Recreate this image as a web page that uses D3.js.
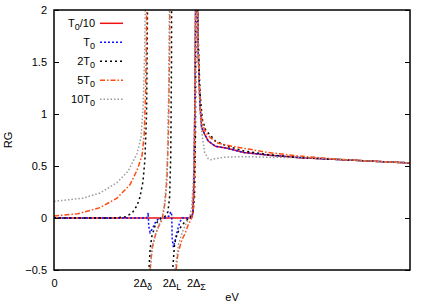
<!DOCTYPE html>
<html>
<head>
<meta charset="utf-8">
<script src="https://cdn.jsdelivr.net/npm/d3@7"></script>
<style>
  body { margin: 0; background: #fff; }
  text { font-family: 'Liberation Sans', Arial, sans-serif; font-size: 11px; fill: #000; }
</style>
</head>
<body>
<div id="chart"></div>
<script>
// values, x in arbitrary energy units (0..15), null = break at a divergence
const seriesNames = ['T0/10', 'T0', '2T0', '5T0', '10T0']

const tenthT0 = [[0, 0], [5.75, 0], [5.82, 0.01], [5.86, 0.08], [5.9, 0.4], [5.94, 1.2], [5.97, 2.2], [6.0, 3],
  [6.04, 2.2], [6.08, 1.57], [6.15, 1.09], [6.22, 0.87], [6.36, 0.8], [6.5, 0.74], [6.8, 0.69], [7.3, 0.67],
  [8, 0.63], [9, 0.605], [10.37, 0.58], [12, 0.562], [13.5, 0.545], [15, 0.53]]

const oneT0 = [[0, 0], [3.9, 0], [3.94, 0.02], [3.97, 0.05], [3.99, -0.08], [4.05, -0.14], [4.15, -0.1], [4.3, -0.03],
  [4.45, 0], [4.7, 0], [4.85, 0.02], [4.92, 0.06], [4.96, 0.03], [4.98, -0.2], [5.03, -0.28], [5.1, -0.22],
  [5.2, -0.12], [5.3, -0.04], [5.4, 0], [5.75, 0], [5.82, 0.01], [5.86, 0.08], [5.9, 0.4], [5.94, 1.2],
  [5.97, 2.2], [6.0, 3], [6.04, 2.2], [6.08, 1.57], [6.15, 1.09], [6.22, 0.87], [6.36, 0.8], [6.5, 0.74],
  [6.8, 0.69], [7.3, 0.67], [8, 0.63], [9, 0.605], [10.37, 0.58], [12, 0.562], [13.5, 0.545], [15, 0.53]]

const twoT0 = [[0, 0], [2.5, 0], [3.0, 0.01], [3.3, 0.05], [3.5, 0.12], [3.62, 0.2], [3.75, 0.35], [3.83, 0.56],
  [3.9, 1.0], [3.94, 2.0], [3.96, 3], null,
  [3.97, -1], [4.0, -0.5], [4.05, -0.3], [4.12, -0.18], [4.25, -0.08], [4.4, -0.02], [4.55, 0], [4.7, 0.02],
  [4.8, 0.06], [4.87, 0.2], [4.92, 0.6], [4.95, 1.5], [4.965, 3], null,
  [4.975, -1], [5.0, -0.5], [5.08, -0.25], [5.18, -0.16], [5.3, -0.1], [5.5, -0.04], [5.7, 0], [5.85, 0.05],
  [5.92, 0.2], [5.96, 0.8], [5.99, 3], [6.03, 2.4], [6.08, 1.7], [6.15, 1.2], [6.25, 0.95], [6.4, 0.84],
  [6.57, 0.8], [6.8, 0.74], [7.3, 0.69], [8, 0.645], [9, 0.61], [10.37, 0.58], [12, 0.562], [13.5, 0.545], [15, 0.53]]

const fiveT0 = [[0, 0.02], [1, 0.04], [1.94, 0.1], [2.65, 0.19], [3.2, 0.32], [3.5, 0.46], [3.71, 0.6], [3.8, 0.8],
  [3.86, 1.2], [3.9, 1.8], [3.93, 3], null,
  [3.95, -1], [4.0, -0.7], [4.07, -0.45], [4.13, -0.3], [4.25, -0.18], [4.34, -0.12], [4.45, -0.06], [4.55, -0.02],
  [4.6, 0.04], [4.68, 0.15], [4.76, 0.37], [4.82, 0.8], [4.87, 1.6], [4.9, 3], null,
  [5.0, -1.2], [5.1, -0.6], [5.22, -0.34], [5.39, -0.21], [5.52, -0.15], [5.65, -0.07], [5.8, 0], [5.88, 0.1],
  [5.93, 0.5], [5.96, 1.3], [5.99, 3], [6.03, 2.3], [6.08, 1.6], [6.15, 1.1], [6.25, 0.9], [6.4, 0.82],
  [6.6, 0.77], [6.9, 0.72], [7.5, 0.69], [8.26, 0.66], [9, 0.63], [10.37, 0.595], [12, 0.565], [13.5, 0.545], [15, 0.53]]

const tenT0 = [[0, 0.16], [1.2, 0.19], [1.94, 0.24], [2.65, 0.34], [3.12, 0.45], [3.5, 0.62], [3.67, 0.78],
  [3.76, 1.1], [3.82, 1.6], [3.86, 2.2], [3.9, 3], null,
  [3.95, -1.5], [4.05, -0.5], [4.13, -0.3], [4.25, -0.17], [4.4, -0.08], [4.5, -0.03], [4.57, 0.03], [4.65, 0.12],
  [4.72, 0.3], [4.78, 0.6], [4.83, 1.2], [4.87, 2.2], [4.9, 3], null,
  [4.98, -1.5], [5.1, -0.5], [5.25, -0.25], [5.4, -0.14], [5.55, -0.06], [5.7, 0], [5.8, 0.1], [5.88, 0.4],
  [5.93, 1.0], [5.96, 2], [5.98, 3], [6.02, 3], [6.06, 1.8], [6.12, 1.2], [6.18, 0.95], [6.25, 0.78],
  [6.35, 0.63], [6.5, 0.57], [6.6, 0.56], [6.8, 0.57], [7.2, 0.585], [8, 0.59], [9, 0.585], [10.37, 0.58],
  [12, 0.565], [13.5, 0.545], [15, 0.53]]

const yTicks = [-0.5, 0, 0.5, 1, 1.5, 2]
const xTickVals = [0, 3.72, 4.95, 5.98]
const xTickLabels = [['0', ''], ['2Δ', 'δ'], ['2Δ', 'L'], ['2Δ', 'Σ']]

const allSeries = [tenthT0, oneT0, twoT0, fiveT0, tenT0]

// styles
const lineStyles = [
  { color: '#ee1111', dash: null },
  { color: '#1010ff', dash: '2,2' },
  { color: '#000000', dash: '2,3' },
  { color: '#ff4a10', dash: '5,2,1.5,2' },
  { color: '#9a9a9a', dash: '1.5,2' }
]

const margin = { top: 10, left: 54, right: 26, bottom: 35 }
const width = 436 - margin.left - margin.right
const height = 305 - margin.top - margin.bottom

const root = d3
  .select('#chart')
  .append('svg')
  .attr('width', width + margin.left + margin.right)
  .attr('height', height + margin.top + margin.bottom)
const svg = root
  .append('g')
  .attr('transform', 'translate(' + margin.left + ',' + margin.top + ')')

const xPositionScale = d3.scaleLinear().domain([0, 15]).range([0, width])
const yPositionScale = d3.scaleLinear().domain([-0.5, 2]).range([height, 0])

svg.append('clipPath').attr('id', 'plot-clip')
  .append('rect').attr('width', width).attr('height', height)

const line = d3.line()
  .defined(d => d !== null)
  .x(d => xPositionScale(d[0]))
  .y(d => yPositionScale(d[1]))

svg.append('g')
  .attr('clip-path', 'url(#plot-clip)')
  .selectAll('path')
  .data(allSeries)
  .enter()
  .append('path')
  .attr('d', d => line(d))
  .attr('fill', 'none')
  .attr('stroke', (d, i) => lineStyles[i].color)
  .attr('stroke-width', 1.5)
  .attr('stroke-dasharray', (d, i) => lineStyles[i].dash)

// y axes, ticks pointing in on both sides
const yAxis = d3.axisLeft(yPositionScale).tickValues(yTicks).tickSize(-5).tickPadding(7)
  .tickFormat(d3.format('.1~f'))
svg.append('g').attr('class', 'axis y-axis').call(yAxis)
const yAxisRight = d3.axisRight(yPositionScale).tickValues(yTicks).tickSize(-5).tickFormat('')
svg.append('g').attr('class', 'axis y-axis-right').attr('transform', 'translate(' + width + ',0)').call(yAxisRight)
svg.selectAll('.axis .domain').remove()
svg.selectAll('.axis line').attr('stroke', '#000').attr('stroke-width', 1)
svg.selectAll('.y-axis text').style('font-size', '11px').attr('font-family', null)

// x axis labels with subscripts
const xAxis = d3.axisBottom(xPositionScale).tickValues(xTickVals).tickSize(0).tickFormat('')
const xg = svg.append('g').attr('class', 'axis x-axis')
  .attr('transform', 'translate(0,' + height + ')').call(xAxis)
xg.select('.domain').remove()
xg.selectAll('.tick').each(function(d, i) {
  const t = d3.select(this).append('text')
    .attr('y', 17)
    .attr('text-anchor', 'middle')
  t.append('tspan').text(xTickLabels[i][0])
  if (xTickLabels[i][1]) {
    t.append('tspan').attr('dy', 3).style('font-size', '9px').text(xTickLabels[i][1])
  }
})

// frame
svg.append('rect')
  .attr('width', width).attr('height', height)
  .attr('fill', 'none').attr('stroke', '#000').attr('stroke-width', 1.5)

// axis titles
svg.append('text')
  .attr('x', width / 2).attr('y', height + 31)
  .attr('text-anchor', 'middle').text('eV')
svg.append('text')
  .attr('transform', 'translate(' + (-margin.left + 12) + ',' + (height / 2) + ') rotate(-90)')
  .attr('text-anchor', 'middle').text('RG')

// legend
const legend = svg.append('g').attr('class', 'legend')
seriesNames.forEach((name, i) => {
  const yy = 13.3 + i * 19
  const t = legend.append('text')
    .attr('x', 41).attr('y', yy + 4).attr('text-anchor', 'end')
  const m = name.match(/^(\d*)T0(.*)$/)
  t.append('tspan').text(m[1] + 'T')
  t.append('tspan').attr('dy', 3).style('font-size', '9px').text('0')
  if (m[2]) t.append('tspan').attr('dy', -3).text(m[2])
  legend.append('line')
    .attr('x1', 46).attr('x2', 69).attr('y1', yy).attr('y2', yy)
    .attr('stroke', lineStyles[i].color)
    .attr('stroke-width', 1.5)
    .attr('stroke-dasharray', lineStyles[i].dash)
})
</script>
</body>
</html>
